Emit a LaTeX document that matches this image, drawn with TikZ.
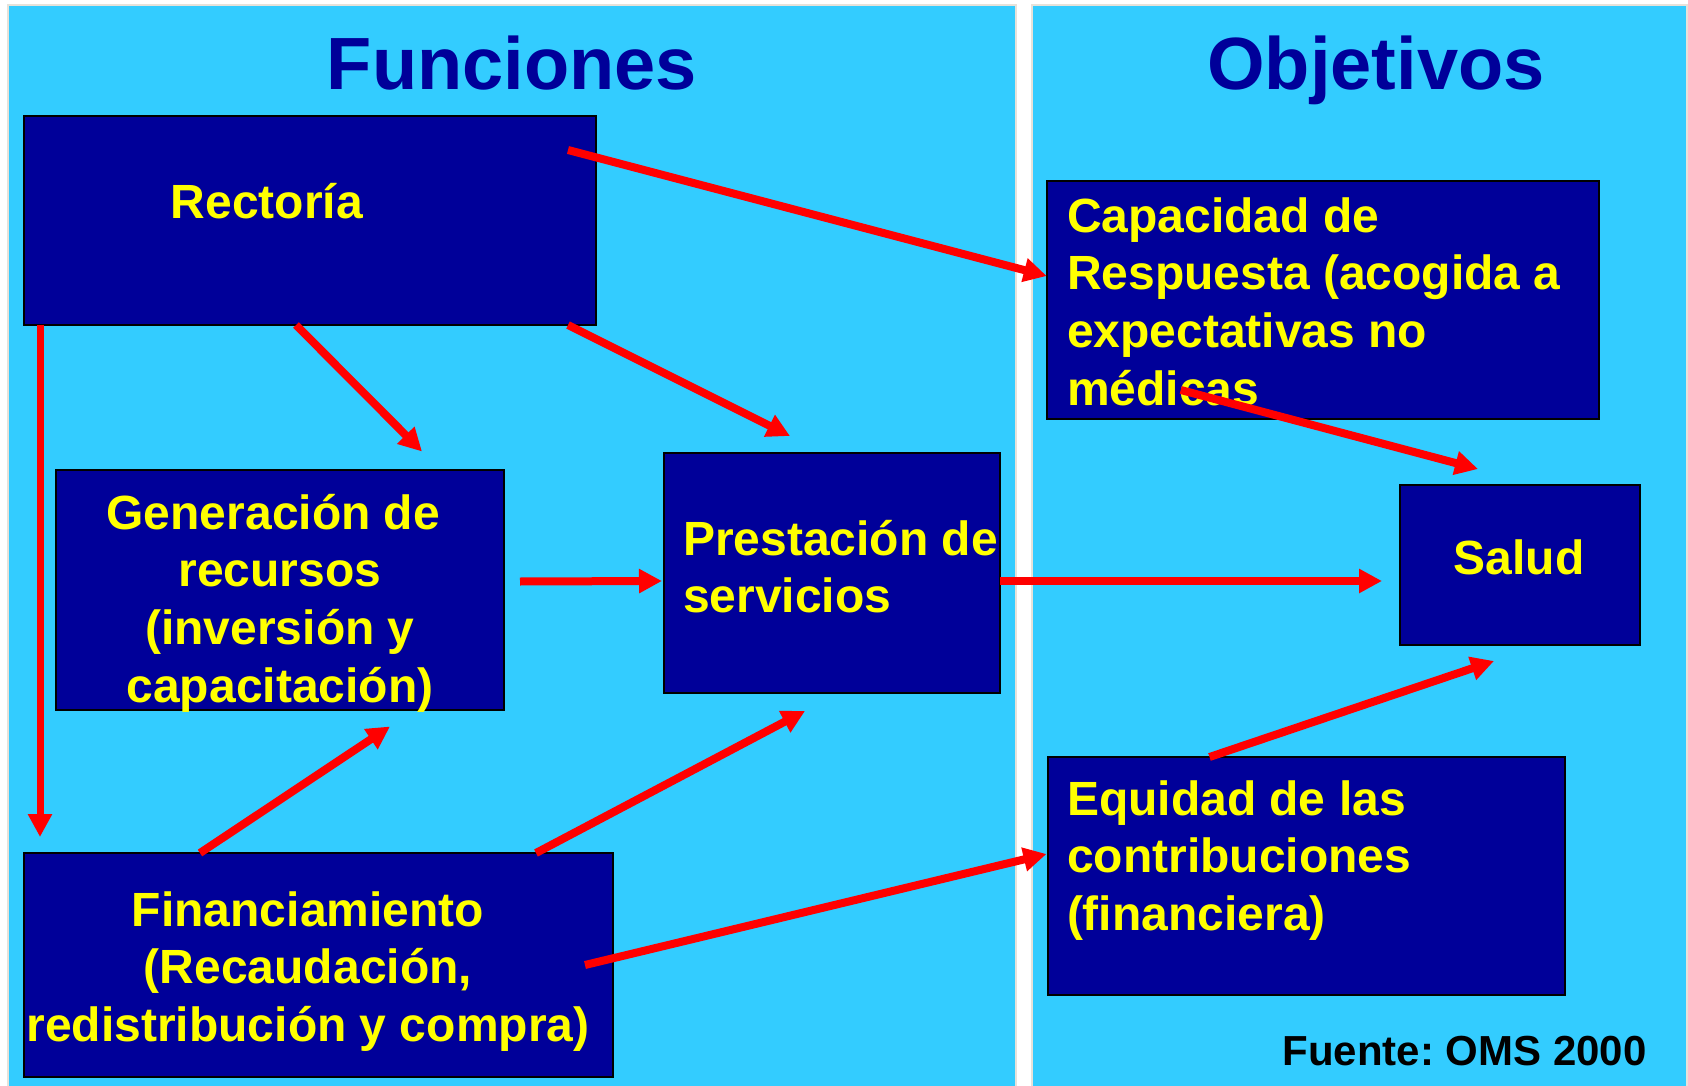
\documentclass[tikz,border=0pt]{standalone}
\usepackage{fontspec}
\setmainfont{Liberation Sans}
\usetikzlibrary{arrows.meta,calc}
\definecolor{panel}{HTML}{33CCFF}
\definecolor{navy}{HTML}{000099}
\definecolor{ylw}{HTML}{FFFF00}
\definecolor{edge}{HTML}{E6E2DA}
\definecolor{arrred}{HTML}{FF0000}
\begin{document}
\frenchspacing
\begin{tikzpicture}[x=0.5pt,y=-0.5pt,
  panelbox/.style={fill=panel,draw=edge,line width=1pt},
  box/.style={draw=black,fill=navy,line width=1pt,inner sep=0pt,outer sep=0pt},
  body/.style={text=ylw,font=\fontsize{24}{28.8}\selectfont\bfseries,inner sep=0pt,outer sep=0pt},
  title/.style={text=navy,font=\fontsize{37}{44}\selectfont\bfseries,inner sep=0pt,anchor=base},
  arr/.style={draw=arrred,line width=4pt,-{Triangle[length=11.5pt,width=11.5pt]}},
]
\useasboundingbox (0,0) rectangle (1688,1086);
\fill[white] (0,0) rectangle (1688,1086);
\draw[panelbox] (8,5) rectangle (1016,1095);
\draw[panelbox] (1032,5) rectangle (1687,1095);

% titles
\node[title] (tfun) at (512,90) {Funciones};
\node[title] (tobj) at (1376,90) {Objetivos};

% boxes
\node[box,minimum width=286pt,minimum height=104.5pt] (rect) at (310,220.5) {};
\node[box,minimum width=224pt,minimum height=120pt] (gen) at (280,589.5) {};
\node[box,minimum width=168pt,minimum height=120pt] (pres) at (832,573) {};
\node[box,minimum width=294.5pt,minimum height=112pt] (fin) at (318.5,965) {};
\node[box,minimum width=276.25pt,minimum height=119pt] (cap) at (1323,300) {};
\node[box,minimum width=120pt,minimum height=80pt] (salud) at (1520,565) {};
\node[box,minimum width=258.5pt,minimum height=119pt] (equ) at (1306,876) {};

% texts
\node[body,anchor=base] (trect) at (267,219) {Rectoría};
\node[body,anchor=north,align=center] (tgen) at (280,489) {\strut Generación de\hspace*{0.278em}\\\strut recursos\\\strut (inversión y\\\strut capacitación)};
\node[body,anchor=north west,align=left] (tpres) at (683,515) {\strut Prestación de\\\strut servicios};
\node[body,anchor=north,align=center] (tfin) at (308,886) {\strut Financiamiento\\\strut (Recaudación,\\\strut redistribución y compra)};
\node[body,anchor=north west,align=left] (tcap) at (1067,192) {\strut Capacidad de\\\strut Respuesta (acogida a\\\strut expectativas no\\\strut médicas};
\node[body,anchor=base] (tsalud) at (1519,574) {Salud};
\node[body,anchor=north west,align=left] (tequ) at (1067,775) {\strut Equidad de las\\\strut contribuciones\\\strut (financiera)};
\node[anchor=base east,inner sep=0pt,font=\fontsize{21}{25}\selectfont\bfseries] (src) at (1647,1065) {Fuente: OMS 2000};

% arrows
\draw[arr] ($(rect.north east)+(-28,34)$) -- ($(cap.north west)+(0,95)$);
\draw[arr] ($(rect.south west)+(272,0)$) -- ($(gen.north west)+(366,-18)$);
\draw[arr] ($(rect.south east)+(-28,0)$) -- ($(pres.north west)+(126,-17)$);
\draw[arr,line width=3.5pt] ($(rect.south west)+(16,0)$) -- ($(fin.north west)+(16,-16)$);
\draw[arr] ($(gen.east)+(16,-8)$) -- ($(pres.west)+(-2,8)$);
\draw[arr] ($(pres.east)+(0,8)$) -- ($(salud.west)+(-18,16)$);
\draw[arr] ($(cap.south west)+(134,-29)$) -- ($(salud.north west)+(78,-16)$);
\draw[arr] ($(fin.north west)+(176,0)$) -- ($(gen.south west)+(334,17)$);
\draw[arr] ($(fin.north west)+(512,0)$) -- ($(pres.south west)+(141,18)$);
\draw[arr] ($(fin.east)+(-28,0)$) -- ($(equ.north west)+(-1,97)$);
\draw[arr] ($(equ.north west)+(162,0)$) -- ($(salud.south west)+(94,16)$);
\end{tikzpicture}
\end{document}
